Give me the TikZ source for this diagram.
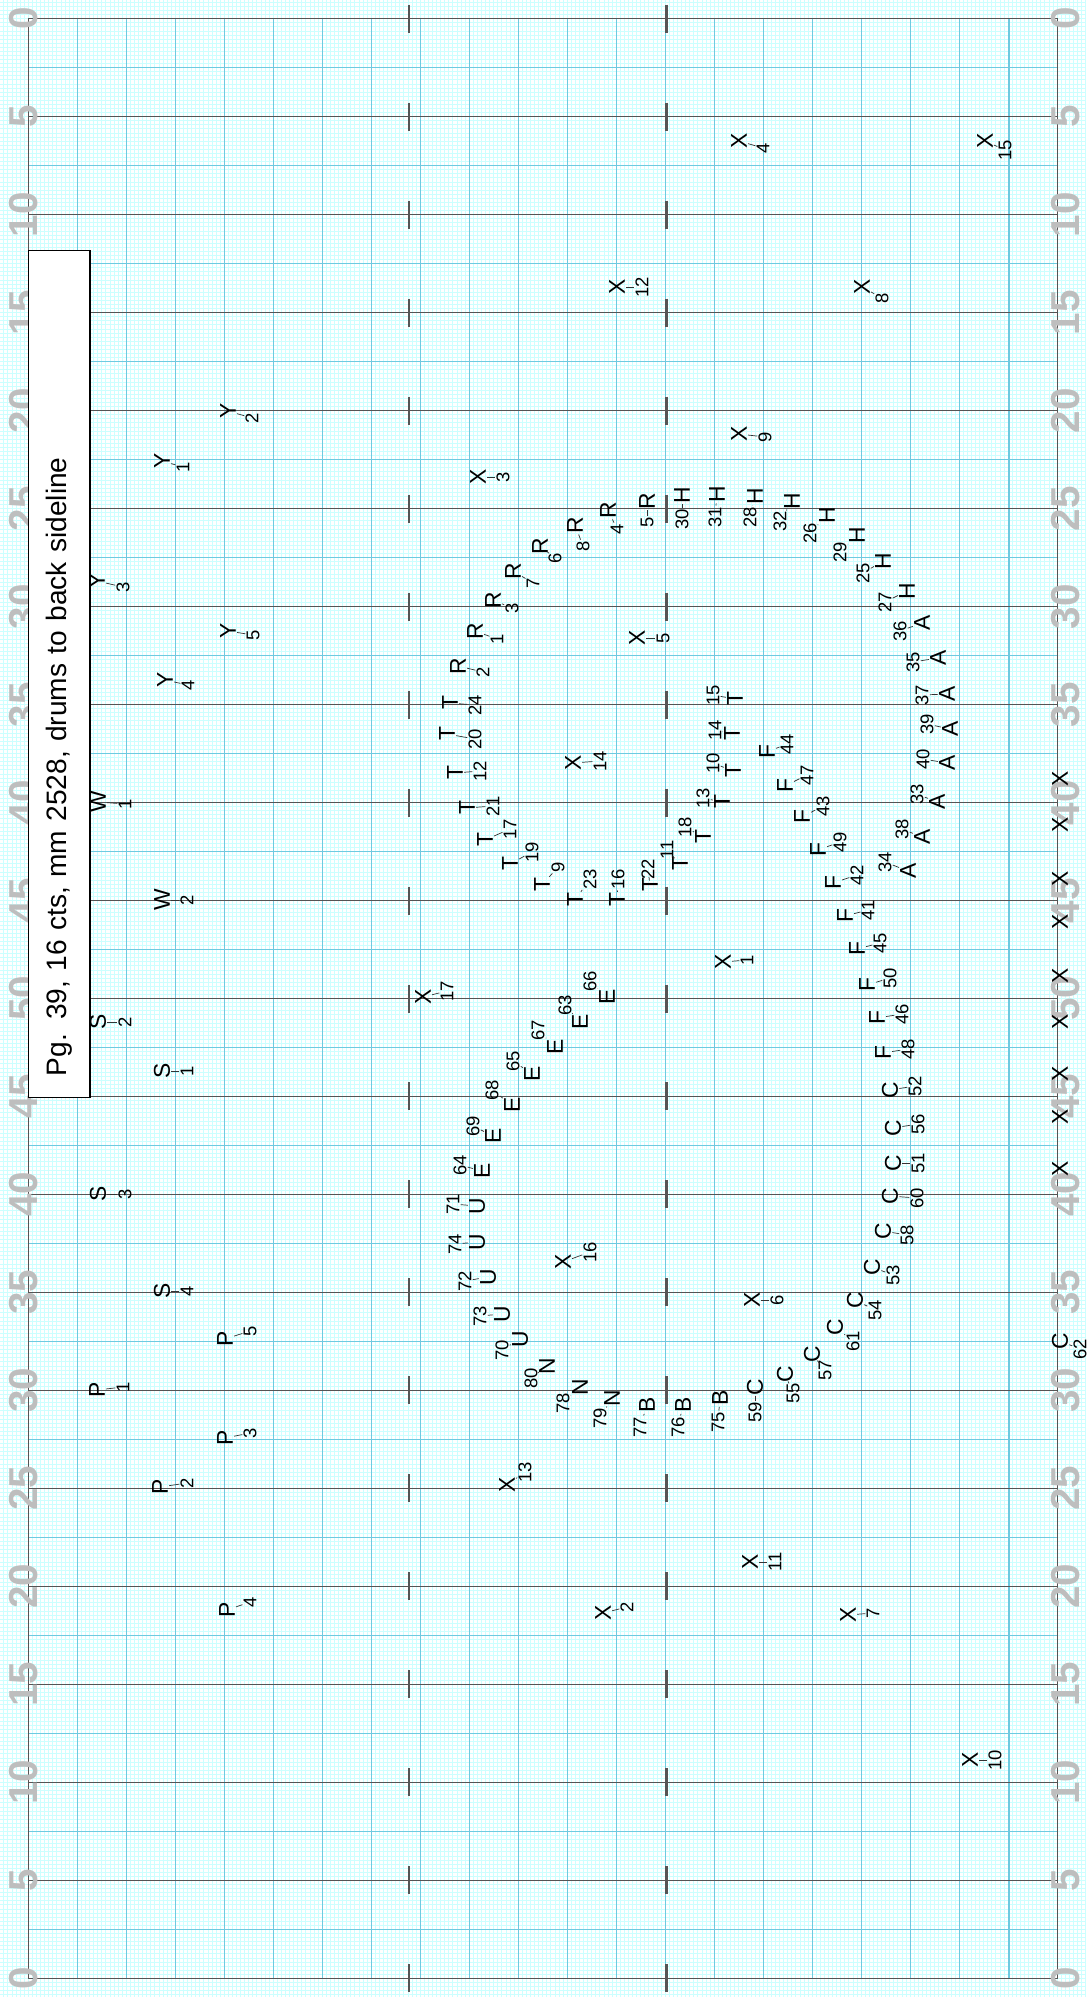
\documentclass[tikz,border=0pt]{standalone}
\usepackage{fontspec}
\setmainfont{Liberation Sans}
\definecolor{gridminor}{RGB}{204,255,255}
\definecolor{gridmid}{RGB}{110,202,224}
\definecolor{yardgray}{RGB}{85,85,85}
\definecolor{numgray}{RGB}{190,190,190}

% letter, number, letter position, number position
\newcommand{\spot}[4]{%
  \node[spot] (s#1#2) at (#3) {#1};
  \node[tag] (t#1#2) at (#4) {#2};
  \draw[lead] (s#1#2) -- (t#1#2);}

\begin{document}
\begin{tikzpicture}[
    x=0.02cm, y=-0.02cm,
    minorline/.style={draw=gridminor, line width=0.5pt},
    midline/.style={draw=gridmid, line width=0.9pt},
    yardline/.style={draw=yardgray, line width=0.8pt},
    hashmark/.style={draw=yardgray, line width=1.7pt},
    yardnum/.style={rotate=90, text=numgray, inner sep=0pt,
        font=\fontsize{23}{26}\selectfont\bfseries},
    titlebox/.style={draw=black, line width=0.6pt, fill=white, rotate=90,
        minimum height=1.234cm, text width=16.09cm, inner xsep=0.42cm,
        inner ysep=0pt, align=left, font=\fontsize{16}{19}\selectfont},
    spot/.style={rotate=90, inner sep=0.5pt, font=\fontsize{13}{15}\selectfont},
    tag/.style={rotate=90, inner sep=0.5pt, font=\fontsize{10.5}{12}\selectfont},
    lead/.style={draw=black!80, line width=0.4pt}
]
\clip (0,0) rectangle (1086,1997);
\fill[white] (0,0) rectangle (1086,1997);

\foreach \k in {-6,...,259}
    \draw[minorline] ({28.3+\k*4.0827},0) -- ({28.3+\k*4.0827},1997);
\foreach \k in {-4,...,485}
    \draw[minorline] (0,{18.7+\k*4.0827}) -- (1086,{18.7+\k*4.0827});

\foreach \k in {1,...,20}
    \draw[midline] ({28.3+\k*49.02},18.7) -- ({28.3+\k*49.02},1978.3);
\foreach \k in {0,...,19}
    \draw[midline] (28.3,{18.7+48.99*(2*\k+1)}) -- (1057.7,{18.7+48.99*(2*\k+1)});

\foreach \k in {0,...,20} {
    \draw[yardline] (28.3,{18.7+97.98*\k}) -- (1057.7,{18.7+97.98*\k});
    \draw[hashmark] (409,{18.7+97.98*\k-14}) -- (409,{18.7+97.98*\k+14});
    \draw[hashmark] (666,{18.7+97.98*\k-14}) -- (666,{18.7+97.98*\k+14});
}
\draw[yardline] (28.3,18.7) -- (28.3,1978.3);
\draw[yardline] (1057.7,18.7) -- (1057.7,1978.3);

\foreach \lab [count=\i from 0] in {0,5,10,15,20,25,30,35,40,45,50,45,40,35,30,25,20,15,10,5,0} {
    \node[yardnum] (ln\i) at (24,{18.7+97.98*\i}) {\lab};
    \node[yardnum] (rn\i) at (1066,{18.7+97.98*\i}) {\lab};
}

\node[titlebox] (title) at (59.15,673.85) {Pg. 39, 16 cts, mm 2528, drums to back sideline};

\spot{Y}{1}{162,461}{183,467}
\spot{Y}{2}{228,411}{252,418}
\spot{Y}{3}{97,581}{123,587}
\spot{Y}{4}{165,680}{188,685}
\spot{Y}{5}{228,631}{253,635}
\spot{W}{1}{98,802}{125,804}
\spot{W}{2}{162,900}{187,900}
\spot{S}{1}{162,1071}{187,1071}
\spot{S}{2}{98,1022}{125,1022}
\spot{S}{3}{98,1194}{125,1194}
\spot{S}{4}{162,1291}{187,1291}
\spot{P}{1}{97,1390}{123,1387}
\spot{P}{2}{160,1487}{187,1483}
\spot{P}{3}{225,1438}{250,1433}
\spot{P}{4}{227,1610}{250,1602}
\spot{P}{5}{225,1339}{250,1331}

\spot{X}{1}{723,962}{747,960}
\spot{X}{2}{603,1613}{627,1607}
\spot{X}{3}{478,477}{503,477}
\spot{X}{4}{739,141}{763,148}
\spot{X}{5}{637,638}{663,638}
\spot{X}{6}{752,1300}{777,1300}
\spot{X}{7}{848,1615}{873,1613}
\spot{X}{8}{862,287}{882,298}
\spot{X}{9}{739,434}{765,437}
\spot{X}{10}{970,1760}{995,1760}
\spot{X}{11}{750,1562}{775,1562}
\spot{X}{12}{617,287}{642,287}
\spot{X}{13}{507,1485}{525,1472}
\spot{X}{14}{573,763}{600,761}
\spot{X}{15}{985,141}{1005,150}
\spot{X}{16}{563,1262}{590,1252}
\spot{X}{17}{423,997}{447,991}
\foreach \yy [count=\i] in {779,825,879,922,976,1022,1074,1117,1169}
    \node[spot] (side\i) at (1060,\yy) {X};

\spot{R}{1}{475,631}{497,639}
\spot{R}{2}{458,666}{483,672}
\spot{R}{3}{493,600}{512,608}
\spot{R}{4}{608,510}{617,529}
\spot{R}{5}{647,501}{647,522}
\spot{R}{6}{540,546}{555,558}
\spot{R}{7}{513,571}{533,583}
\spot{R}{8}{575,525}{583,546}

\spot{H}{30}{682,495}{682,519}
\spot{H}{31}{717,494}{715,517}
\spot{H}{28}{755,496}{750,517}
\spot{H}{32}{792,501}{780,521}
\spot{H}{26}{827,515}{810,533}
\spot{H}{29}{857,535}{840,552}
\spot{H}{25}{883,561}{863,573}
\spot{H}{27}{907,591}{885,602}

\spot{A}{36}{922,623}{900,631}
\spot{A}{35}{938,658}{913,662}
\spot{A}{37}{947,694}{922,695}
\spot{A}{39}{950,729}{927,724}
\spot{A}{40}{947,763}{923,759}
\spot{A}{33}{937,802}{917,794}
\spot{A}{38}{922,837}{902,829}
\spot{A}{34}{908,871}{885,862}

\spot{T}{15}{735,699}{713,695}
\spot{T}{14}{732,734}{715,730}
\spot{T}{10}{733,771}{713,763}
\spot{T}{13}{722,802}{703,798}
\spot{T}{18}{703,837}{685,827}
\spot{T}{11}{680,864}{667,850}
\spot{T}{22}{650,885}{648,869}
\spot{T}{16}{617,900}{618,879}
\spot{T}{23}{575,900}{590,879}
\spot{T}{9}{542,885}{558,867}
\spot{T}{19}{510,864}{532,852}
\spot{T}{17}{485,840}{510,829}
\spot{T}{21}{467,808}{493,806}
\spot{T}{12}{455,773}{480,771}
\spot{T}{20}{447,734}{475,739}
\spot{T}{24}{450,703}{475,705}

\spot{E}{66}{607,997}{590,981}
\spot{E}{63}{580,1022}{565,1005}
\spot{E}{67}{555,1047}{538,1030}
\spot{E}{65}{532,1074}{513,1061}
\spot{E}{68}{512,1105}{492,1090}
\spot{E}{69}{493,1136}{473,1126}
\spot{E}{64}{482,1171}{460,1165}

\spot{U}{71}{477,1206}{453,1204}
\spot{U}{74}{477,1242}{455,1244}
\spot{U}{72}{488,1277}{465,1281}
\spot{U}{73}{502,1314}{480,1316}
\spot{U}{70}{520,1339}{502,1350}

\spot{N}{80}{547,1366}{531,1378}
\spot{N}{78}{580,1387}{563,1403}
\spot{N}{79}{612,1398}{600,1418}

\spot{B}{77}{647,1405}{640,1427}
\spot{B}{76}{683,1405}{678,1427}
\spot{B}{75}{720,1398}{718,1422}

\spot{C}{59}{755,1387}{755,1412}
\spot{C}{55}{785,1374}{793,1393}
\spot{C}{57}{812,1354}{825,1370}
\spot{C}{61}{835,1327}{853,1341}
\spot{C}{54}{855,1300}{875,1310}
\spot{C}{53}{872,1267}{893,1275}
\spot{C}{58}{883,1231}{907,1235}
\spot{C}{60}{890,1196}{917,1198}
\spot{C}{51}{893,1163}{918,1163}
\spot{C}{56}{893,1128}{918,1124}
\spot{C}{52}{890,1090}{915,1086}
\spot{C}{62}{1060,1341}{1080,1349}

\spot{F}{48}{883,1053}{908,1049}
\spot{F}{46}{877,1018}{902,1014}
\spot{F}{50}{867,985}{890,978}
\spot{F}{45}{857,949}{880,943}
\spot{F}{41}{845,916}{868,910}
\spot{F}{42}{833,883}{857,875}
\spot{F}{49}{818,850}{840,842}
\spot{F}{43}{802,817}{823,806}
\spot{F}{47}{785,786}{807,775}
\spot{F}{44}{767,752}{787,744}
\end{tikzpicture}
\end{document}
